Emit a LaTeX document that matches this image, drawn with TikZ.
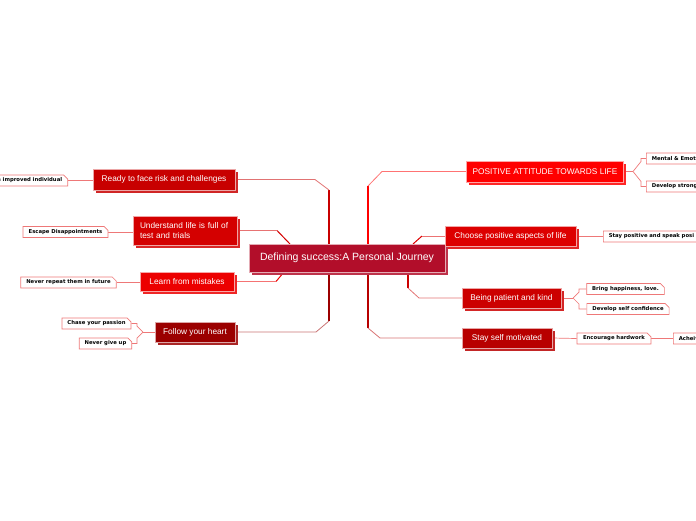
\documentclass[tikz,border=0pt]{standalone}
\usepackage{fontspec}
\setmainfont{Liberation Sans}
\newfontfamily\subfont{DejaVu Sans}
\usepackage{tikz}
\usetikzlibrary{shapes.misc,shadows,backgrounds}
\definecolor{ctrred}{RGB}{178,14,42}
\definecolor{rdyred}{RGB}{200,0,0}
\definecolor{undred}{RGB}{212,0,0}
\definecolor{lrnred}{RGB}{236,0,0}
\definecolor{folred}{RGB}{155,0,0}
\definecolor{posred}{RGB}{255,0,0}
\definecolor{chored}{RGB}{221,0,0}
\definecolor{beired}{RGB}{204,0,0}
\definecolor{styred}{RGB}{184,0,0}
\definecolor{subline}{RGB}{238,120,120}

\begin{document}
\begin{tikzpicture}[x=1pt,y=-1pt,
  topic/.style={fill=#1, draw=#1!35!white, line width=0.5pt, text=white,
    inner xsep=6pt, inner ysep=2pt, font=\fontsize{8.3}{10}\selectfont,
    drop shadow={shadow xshift=2.5pt, shadow yshift=-2.5pt, fill=#1!85!white, opacity=1}},
  sub/.style={chamfered rectangle, chamfered rectangle corners=north east,
    chamfered rectangle xsep=2.5pt, chamfered rectangle ysep=1.5pt,
    draw=subline, fill=white, line width=0.7pt,
    text=black, inner xsep=3pt, inner ysep=1.5pt, minimum height=11pt,
    font=\subfont\bfseries\fontsize{5.3}{6}\selectfont},
  trunk/.style={draw=#1, line width=1.5pt},
  twig/.style={draw=#1!55!white, line width=0.8pt},
  subln/.style={draw=subline, line width=0.7pt}]
\useasboundingbox (0,0) rectangle (696,520);

\node[topic=ctrred, font=\fontsize{10.5}{12}\selectfont, minimum width=196pt, minimum height=28pt] (ctr) at (347,258) {Defining success:A Personal Journey};

% left side
\node[topic=rdyred, minimum width=142pt, minimum height=21pt] (rdy) at (164,179.5) {Ready to face risk and challenges};
\node[topic=undred, minimum width=104pt, minimum height=29pt, text width=90pt, inner xsep=7pt, align=left] (und) at (185,230.5) {Understand life is full of\\test and trials};
\node[topic=lrnred, minimum width=94pt, minimum height=19pt] (lrn) at (187,281.5) {Learn from mistakes};
\node[topic=folred, minimum width=80pt, minimum height=20pt] (fol) at (195,332) {Follow your heart};

\node[sub, anchor=east, text width=90pt, align=right] (imp) at (68,180.5) {n improved individual};
\node[sub, minimum width=85pt] (esc) at (65.5,232) {Escape Disappointments};
\node[sub, minimum width=95pt] (nev) at (68.5,282.5) {Never repeat them in future};
\node[sub, minimum width=69pt] (cha) at (96.5,323.5) {Chase your passion};
\node[sub, minimum width=51pt] (ngu) at (105.5,343.5) {Never give up};

% right side
\node[topic=posred, minimum width=154pt, minimum height=21pt] (pos) at (545,171.5) {POSITIVE ATTITUDE TOWARDS LIFE};
\node[topic=chored, minimum width=131pt, minimum height=20pt] (cho) at (510.5,236) {Choose positive aspects of life};
\node[topic=beired, minimum width=99pt, minimum height=20pt] (bei) at (511.5,298) {Being patient and kind};
\node[topic=styred, minimum width=90pt, minimum height=20pt] (sty) at (507,338) {Stay self motivated};

\node[sub, anchor=west, text width=80pt, align=left] (men) at (646,158.5) {Mental \& Emot};
\node[sub, anchor=west, text width=80pt, align=left] (dev) at (646,186.5) {Develop strong};
\node[sub, anchor=west, text width=120pt, align=left] (spk) at (603,236.5) {Stay positive and speak posi};
\node[sub, minimum width=77pt] (bri) at (625.5,289) {Bring happiness, love.};
\node[sub, minimum width=82pt] (dsc) at (628,309) {Develop self confidence};
\node[sub, minimum width=74pt] (enc) at (614,338.5) {Encourage hardwork};
\node[sub, anchor=west, text width=60pt, align=left] (ach) at (673,338.5) {Acheiv};

\coordinate (kRdy) at (329,190);   \coordinate (bRdy) at (315,179.5);
\coordinate (kUnd) at (290,244);   \coordinate (bUnd) at (277,230.5);
\coordinate (kLrn) at (284,272);   \coordinate (bLrn) at (276,281.5);
\coordinate (kFol) at (329,321);   \coordinate (bFol) at (316,332);
\coordinate (kPos) at (368,186);   \coordinate (bPos) at (382,171.5);
\coordinate (kCho) at (413,244);   \coordinate (bCho) at (422,236);
\coordinate (kBei) at (408,288);   \coordinate (bBei) at (419,298);
\coordinate (kSty) at (368,328);   \coordinate (bSty) at (380,338);
\coordinate (jFol) at (143,332);
\coordinate (jPos) at (633,171.5);
\coordinate (jBei) at (573,298);

\begin{scope}[on background layer]
\draw[trunk=rdyred] (ctr.north -| kRdy) -- (kRdy);
\draw[twig=rdyred] (kRdy) -- (bRdy) -- (rdy.east);
\draw[trunk=undred, line width=1pt] (kUnd) -- (bUnd);
\draw[twig=undred] (bUnd) -- (und.east);
\draw[trunk=lrnred, line width=1pt] (kLrn) -- (bLrn);
\draw[twig=lrnred] (bLrn) -- (lrn.east);
\draw[trunk=folred] (ctr.south -| kFol) -- (kFol);
\draw[twig=folred] (kFol) -- (bFol) -- (fol.east);
\draw[trunk=posred] (ctr.north -| kPos) -- (kPos);
\draw[twig=posred] (kPos) -- (bPos) -- (pos.west);
\draw[trunk=chored, line width=1pt] (kCho) -- (bCho);
\draw[twig=chored] (bCho) -- (cho.west);
\draw[trunk=beired] (ctr.south -| kBei) -- (kBei);
\draw[twig=beired] (kBei) -- (bBei) -- (bei.west);
\draw[trunk=styred] (ctr.south -| kSty) -- (kSty);
\draw[twig=styred] (kSty) -- (bSty) -- (sty.west);

\draw[subln] (imp.east) -- (imp.east -| rdy.west);
\draw[subln] (esc.east) -- (esc.east -| und.west);
\draw[subln] (nev.east) -- (nev.east -| lrn.west);
\draw[subln] (fol.west) -- (jFol);
\draw[subln] (jFol) -- ++(-6,-6) |- (cha.east);
\draw[subln] (jFol) -- ++(-6,6) |- (ngu.east);
\draw[subln] (pos.east) -- (jPos);
\draw[subln] (jPos) -- ++(8,-10) |- (men.west);
\draw[subln] (jPos) -- ++(8,10) |- (dev.west);
\draw[subln] (spk.west -| cho.east) -- (spk.west);
\draw[subln] (bei.east) -- (jBei);
\draw[subln] (jBei) -- ++(6,-6) |- (bri.west);
\draw[subln] (jBei) -- ++(6,6) |- (dsc.west);
\draw[subln] (sty.east) -- (enc.west);
\draw[subln] (enc.east) -- (ach.west);
\end{scope}
\end{tikzpicture}
\end{document}
